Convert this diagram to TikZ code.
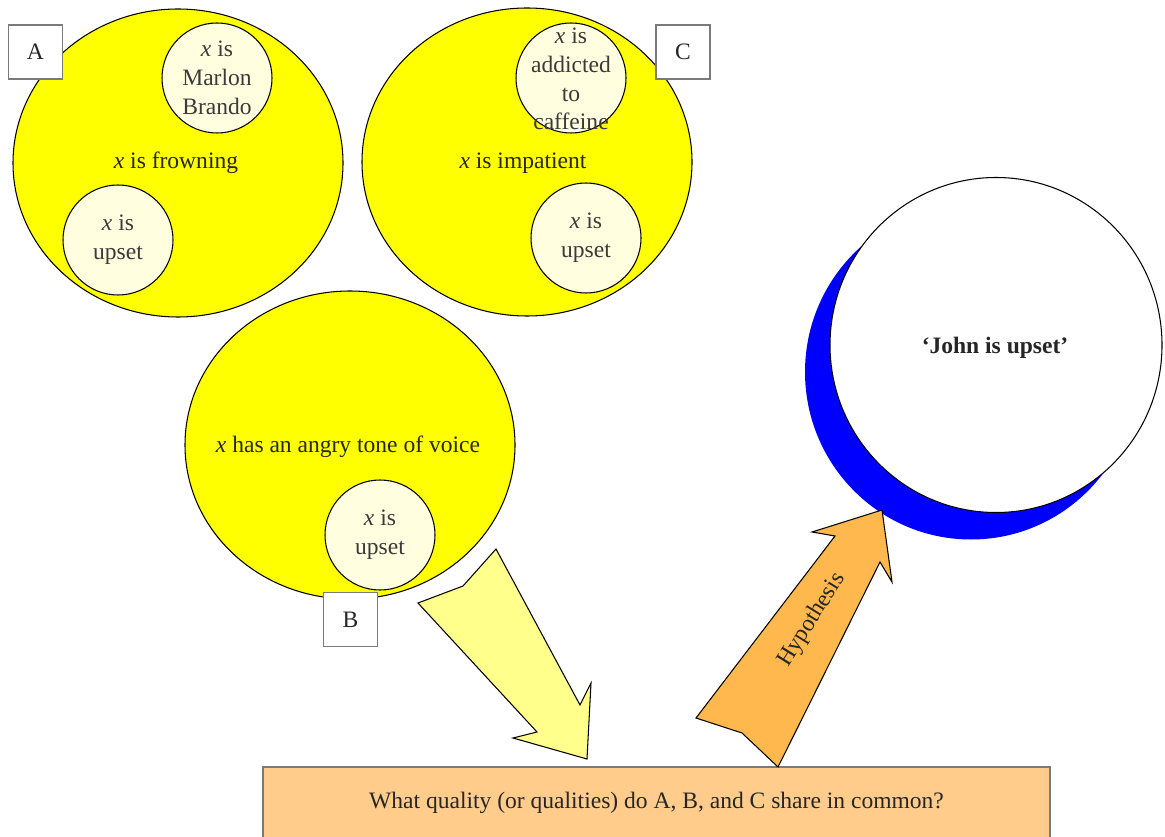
\documentclass[tikz,border=0pt]{standalone}
\usepackage{fontspec}
\setmainfont{Liberation Serif}
\usetikzlibrary{shapes.geometric}
\definecolor{bigyellow}{HTML}{FFFF00}
\definecolor{cream}{HTML}{FFFFE0}
\definecolor{paleyellow}{HTML}{FFFF8C}
\definecolor{hypoorange}{HTML}{FFB84D}
\definecolor{boxorange}{HTML}{FFCC8C}
\definecolor{txtgray}{HTML}{262626}
\definecolor{innergray}{HTML}{3A3A3A}
\definecolor{framegray}{HTML}{7A7A7A}
\def\u{0.02cm}
\begin{document}
\begin{tikzpicture}[x=0.02cm,y=-0.02cm,
  font=\fontsize{13.4}{16.4}\selectfont, text=txtgray,
  bigcirc/.style={ellipse, draw=black, line width=0.6pt, fill=bigyellow,
    minimum width=330*\u, minimum height=308*\u, inner sep=0pt},
  smallcirc/.style={circle, draw=black, line width=0.6pt, fill=cream,
    minimum size=110*\u, inner sep=0pt},
  innertxt/.style={align=center, text=innergray, inner sep=0pt},
  maintxt/.style={align=center, inner sep=0pt},
  lblbox/.style={rectangle, draw=framegray, line width=1.1pt, fill=white,
    minimum size=54*\u, inner sep=0pt},
  blockarrow/.style={draw=black, line width=0.6pt, line join=miter}
]
\useasboundingbox (0,0) rectangle (1165,837);

% Circle A
\node[bigcirc] (A) at (178,163) {};
\node[maintxt] (Atxt) at (176,163) {\textit{x} is frowning};
\node[smallcirc] (A1) at (217,78) {};
\node[innertxt] (A1t) at (A1) {\textit{x} is\\Marlon\\Brando};
\node[smallcirc] (A2) at (118,240) {};
\node[innertxt] (A2t) at (A2) {\textit{x} is\\upset};

% Circle C
\node[bigcirc] (C) at (527,162) {};
\node[maintxt] (Ctxt) at (523,163) {\textit{x} is impatient};
\node[smallcirc] (C1) at (571,78) {};
\node[innertxt] (C1t) at (571,79) {\textit{x} is\\addicted\\to\\caffeine};
\node[smallcirc] (C2) at (586,238) {};
\node[innertxt] (C2t) at (C2) {\textit{x} is\\upset};

% Circle B
\node[bigcirc] (B) at (350,445) {};
\node[maintxt] (Btxt) at (348,447) {\textit{x} has an angry tone of voice};
\node[smallcirc] (B1) at (380,535) {};
\node[innertxt] (B1t) at (B1) {\textit{x} is\\upset};

% Labels
\node[lblbox] (LA) at (35.5,52) {A};
\node[lblbox] (LC) at (683,52) {C};
\node[lblbox] (LB) at (350.5,619.5) {B};

% John is upset
\node[ellipse, fill=blue, minimum width=332*\u, minimum height=335*\u, inner sep=0pt] (shadow) at (971,372) {};
\node[ellipse, draw=black, line width=0.6pt, fill=white, minimum width=332*\u, minimum height=335*\u, inner sep=0pt] (john) at (996,345) {};
\node[maintxt, font=\fontsize{13.4}{16.4}\selectfont\bfseries] (jtxt) at (995,348) {‘John is upset’};

% Question box
\node[rectangle, draw=framegray, line width=1.1pt, fill=boxorange,
  minimum width=787*\u, minimum height=72*\u, inner sep=0pt] (q) at (656.5,803)
  {What quality (or qualities) do A, B, and C share in common?};

% Yellow block arrow (B to question)
\coordinate (y1) at (418,603);
\coordinate (y2) at (463,586);
\coordinate (y3) at (496,549);
\coordinate (y4) at (580,705);
\coordinate (y5) at (591,683);
\coordinate (y6) at (587,759);
\coordinate (y7) at (513,738);
\coordinate (y8) at (537,732);
\fill[paleyellow] (y1) -- (y2) -- (y3) -- (y4) -- (y5) -- (y6) -- (y7) -- (y8) -- cycle;
\draw[blockarrow] (y1) -- (y2) -- (y3) -- (y4) -- (y5) -- (y6) -- (y7) -- (y8) -- cycle;

% Orange block arrow (question to hypothesis)
\coordinate (o1) at (696,718);
\coordinate (o2) at (742,733);
\coordinate (o3) at (778,767);
\coordinate (o4) at (880,562);
\coordinate (o5) at (892,582);
\coordinate (o6) at (882,510);
\coordinate (o7) at (812,532);
\coordinate (o8) at (835,536);
\fill[hypoorange] (o1) -- (o2) -- (o3) -- (o4) -- (o5) -- (o6) -- (o7) -- (o8) -- cycle;
\draw[blockarrow] (o1) -- (o2) -- (o3) -- (o4) -- (o5) -- (o6) -- (o7) -- (o8) -- cycle;
\node[maintxt, rotate=58] (hyp) at (812,620) {Hypothesis};
\end{tikzpicture}
\end{document}
